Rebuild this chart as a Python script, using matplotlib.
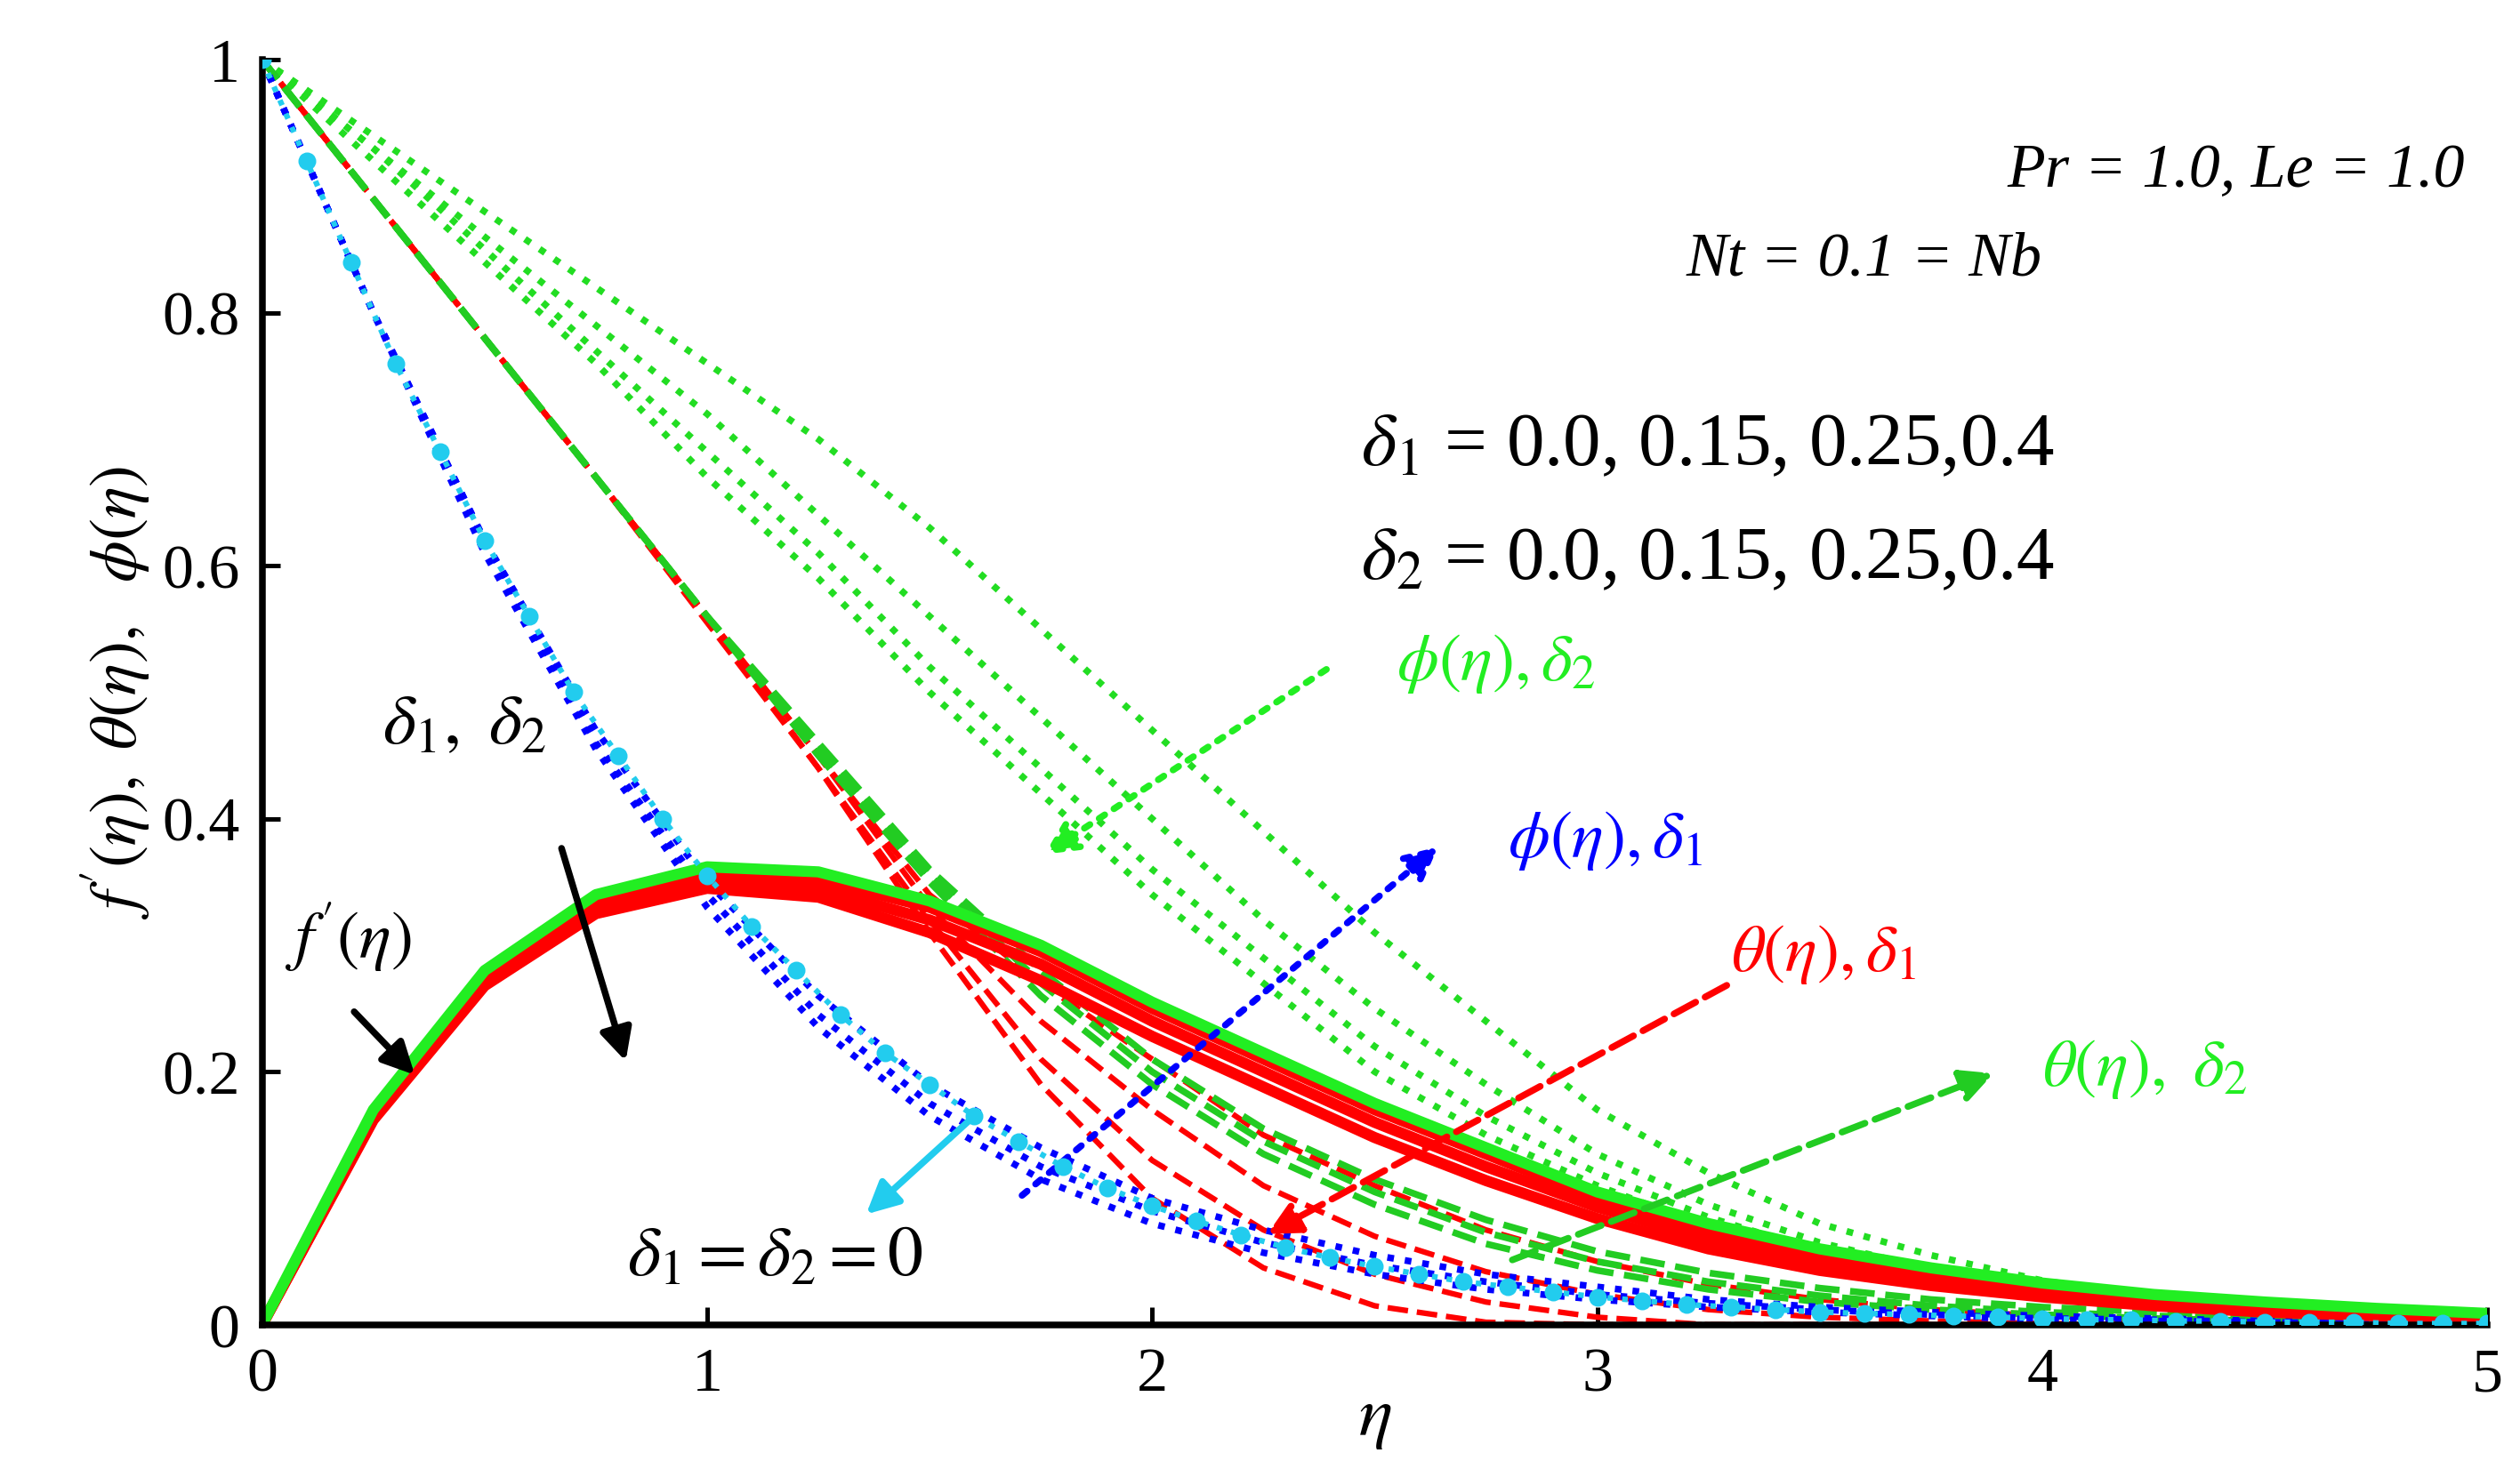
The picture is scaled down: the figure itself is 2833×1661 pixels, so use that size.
import numpy as np
import matplotlib
matplotlib.use("Agg")
import matplotlib.pyplot as plt

eta = [0, 0.25, 0.5, 0.75, 1.0, 1.25, 1.5, 1.75, 2.0, 2.25, 2.5, 2.75, 3.0, 3.25, 3.5, 3.75, 4.0, 4.25, 4.5, 4.75, 5.0]

# f'(eta): green (delta2 family) and red (delta1 family)
fp_green = [0, 0.17, 0.28, 0.34, 0.362, 0.358, 0.335, 0.30, 0.255, 0.215, 0.175, 0.14, 0.105, 0.08, 0.06, 0.045, 0.033, 0.024, 0.018, 0.013, 0.009]
fp_red = [
    [0, 0.165, 0.275, 0.335, 0.355, 0.352, 0.33, 0.295, 0.25, 0.21, 0.17, 0.135, 0.10, 0.075, 0.056, 0.042, 0.03, 0.022, 0.016, 0.011, 0.008],
    [0, 0.163, 0.27, 0.33, 0.35, 0.345, 0.32, 0.285, 0.24, 0.20, 0.16, 0.125, 0.093, 0.068, 0.05, 0.037, 0.026, 0.019, 0.013, 0.009, 0.006],
    [0, 0.162, 0.268, 0.325, 0.345, 0.338, 0.31, 0.272, 0.228, 0.188, 0.148, 0.114, 0.084, 0.06, 0.043, 0.031, 0.022, 0.015, 0.01, 0.007, 0.005],
]

# theta(eta), delta1 family (red dashed)
theta_red = [
    [1, 0.89, 0.78, 0.67, 0.56, 0.45, 0.34, 0.27, 0.21, 0.15, 0.11, 0.075, 0.05, 0.032, 0.02, 0.012, 0.007, 0.004, 0.002, 0.001, 0.0],
    [1, 0.89, 0.78, 0.67, 0.56, 0.45, 0.33, 0.24, 0.17, 0.11, 0.07, 0.042, 0.024, 0.012, 0.006, 0.003, 0.001, 0.0, 0.0, 0.0, 0.0],
    [1, 0.89, 0.78, 0.67, 0.56, 0.44, 0.32, 0.21, 0.13, 0.075, 0.04, 0.018, 0.006, 0.0, 0.0, 0.0, 0.0, 0.0, 0.0, 0.0, 0.0],
    [1, 0.89, 0.78, 0.67, 0.555, 0.44, 0.31, 0.19, 0.10, 0.045, 0.015, 0.002, 0.0, 0.0, 0.0, 0.0, 0.0, 0.0, 0.0, 0.0, 0.0],
]
# theta(eta), delta2 family (green dashed)
theta_green = [
    [1, 0.89, 0.78, 0.67, 0.56, 0.46, 0.36, 0.28, 0.21, 0.155, 0.115, 0.083, 0.058, 0.041, 0.029, 0.02, 0.014, 0.01, 0.007, 0.005, 0.003],
    [1, 0.89, 0.78, 0.67, 0.56, 0.455, 0.355, 0.27, 0.20, 0.145, 0.105, 0.073, 0.05, 0.034, 0.023, 0.015, 0.01, 0.007, 0.005, 0.003, 0.002],
    [1, 0.89, 0.78, 0.67, 0.56, 0.45, 0.35, 0.26, 0.19, 0.135, 0.095, 0.064, 0.043, 0.028, 0.018, 0.012, 0.008, 0.005, 0.003, 0.002, 0.001],
]
# phi(eta), delta2 family (green dotted)
phi_green = [
    [1, 0.94, 0.88, 0.82, 0.76, 0.70, 0.63, 0.55, 0.47, 0.39, 0.31, 0.24, 0.17, 0.12, 0.08, 0.055, 0.035, 0.022, 0.014, 0.009, 0.006],
    [1, 0.93, 0.86, 0.79, 0.72, 0.64, 0.56, 0.48, 0.40, 0.32, 0.25, 0.19, 0.135, 0.095, 0.065, 0.044, 0.029, 0.019, 0.012, 0.008, 0.005],
    [1, 0.93, 0.85, 0.77, 0.69, 0.61, 0.52, 0.44, 0.36, 0.29, 0.22, 0.165, 0.12, 0.085, 0.058, 0.04, 0.026, 0.017, 0.011, 0.007, 0.004],
    [1, 0.92, 0.84, 0.76, 0.67, 0.59, 0.50, 0.42, 0.34, 0.27, 0.20, 0.15, 0.11, 0.077, 0.053, 0.036, 0.024, 0.016, 0.01, 0.006, 0.004],
]
# phi(eta), delta1 family (blue dotted)
phi_blue = [
    [1, 0.80, 0.62, 0.47, 0.35, 0.26, 0.19, 0.14, 0.10, 0.075, 0.055, 0.04, 0.03, 0.02, 0.014, 0.01, 0.007, 0.005, 0.003, 0.002, 0.001],
    [1, 0.80, 0.62, 0.46, 0.34, 0.245, 0.175, 0.125, 0.09, 0.065, 0.047, 0.034, 0.024, 0.017, 0.012, 0.008, 0.005, 0.004, 0.002, 0.001, 0.001],
    [1, 0.80, 0.61, 0.455, 0.33, 0.235, 0.165, 0.115, 0.08, 0.057, 0.04, 0.028, 0.02, 0.014, 0.01, 0.007, 0.004, 0.003, 0.002, 0.001, 0.0],
]
# base case delta1 = delta2 = 0 (cyan dots)
eta_c = [0, 0.1, 0.2, 0.3, 0.4, 0.5, 0.6, 0.7, 0.8, 0.9, 1.0, 1.1, 1.2, 1.3, 1.4, 1.5, 1.6, 1.7, 1.8, 1.9, 2.0, 2.1, 2.2, 2.3, 2.4, 2.5,
         2.6, 2.7, 2.8, 2.9, 3.0, 3.1, 3.2, 3.3, 3.4, 3.5, 3.6, 3.7, 3.8, 3.9, 4.0, 4.1, 4.2, 4.3, 4.4, 4.5, 4.6, 4.7, 4.8, 4.9, 5.0]
phi_cyan = [1, 0.92, 0.84, 0.76, 0.69, 0.62, 0.56, 0.50, 0.45, 0.40, 0.355, 0.315, 0.28, 0.245, 0.215, 0.19, 0.165, 0.145, 0.125, 0.108,
            0.094, 0.082, 0.071, 0.061, 0.053, 0.046, 0.04, 0.034, 0.03, 0.026, 0.022, 0.019, 0.016, 0.014, 0.012, 0.01, 0.009, 0.008,
            0.007, 0.006, 0.005, 0.004, 0.004, 0.003, 0.003, 0.002, 0.002, 0.002, 0.001, 0.001, 0.001]

plt.rcParams['font.family'] = ['Liberation Serif', 'DejaVu Serif']
plt.rcParams['mathtext.fontset'] = 'stix'

fig = plt.figure(figsize=(2833 / 180, 1662 / 180), dpi=180)
ax = fig.add_axes([0.104, 0.103, 0.883, 0.856])

for y in phi_green:
    ax.plot(eta, y, color='#22dd22', ls=':', lw=3)
for y in theta_red:
    ax.plot(eta, y, color='red', ls='--', lw=2.5)
for y in theta_green:
    ax.plot(eta, y, color='#22cc22', ls='--', lw=3)
for y in phi_blue:
    ax.plot(eta, y, color='blue', ls=':', lw=3)
for y in fp_red:
    ax.plot(eta, y, color='red', lw=5)
ax.plot(eta, fp_green, color='#22ee22', lw=5)
ax.plot(eta_c, phi_cyan, color='#22ccee', ls=':', lw=2.5, marker='o', ms=7, zorder=5)

ax.set_xlim(0, 5)
ax.set_ylim(0, 1)
ax.set_xticks([0, 1, 2, 3, 4, 5])
ax.set_yticks([0, 0.2, 0.4, 0.6, 0.8, 1])
ax.set_yticklabels(['0', '0.2', '0.4', '0.6', '0.8', '1'])
ax.tick_params(labelsize=28, direction='in', length=8, width=2, pad=10)
for s in ['top', 'right']:
    ax.spines[s].set_visible(False)
for s in ['left', 'bottom']:
    ax.spines[s].set_linewidth(3)
ax.set_xlabel(r'$\eta$', fontsize=32, labelpad=-8)
ax.set_ylabel(r"$f'(\eta),\ \theta(\eta),\ \ \phi(\eta)$", fontsize=30, labelpad=4)

it = dict(style='italic', fontsize=28)
ax.text(4.95, 0.90, 'Pr = 1.0, Le = 1.0', ha='right', **it)
ax.text(3.2, 0.83, 'Nt = 0.1 = Nb', ha='left', **it)
ax.text(2.47, 0.68, r'$\delta_1$ = 0.0, 0.15, 0.25,0.4', fontsize=34)
ax.text(2.47, 0.59, r'$\delta_2$ = 0.0, 0.15, 0.25,0.4', fontsize=34)
ax.text(2.55, 0.51, r'$\phi(\eta),\delta_2$', color='#22ee22', fontsize=30)
ax.text(2.8, 0.37, r'$\phi(\eta),\delta_1$', color='blue', fontsize=30)
ax.text(3.3, 0.28, r'$\theta(\eta),\delta_1$', color='red', fontsize=30)
ax.text(4.0, 0.19, r'$\theta(\eta),\ \delta_2$', color='#22ee22', fontsize=30)
ax.text(0.27, 0.46, r"$\delta_{1},\ \delta_2$", fontsize=32)
ax.text(0.05, 0.29, r"$f'(\eta)$", fontsize=30)
ax.text(0.82, 0.04, r'$\delta_1 = \delta_2 = 0$', fontsize=32)

arr = lambda c, ls='-': dict(arrowstyle='-|>', color=c, lw=3, ls=ls, mutation_scale=30)
ax.annotate('', xy=(0.35, 0.195), xytext=(0.2, 0.25), arrowprops=arr('black'))
ax.annotate('', xy=(0.82, 0.205), xytext=(0.67, 0.38), arrowprops=arr('black'))
ax.annotate('', xy=(1.75, 0.37), xytext=(2.4, 0.52), arrowprops=arr('#22ee22', ':'))
ax.annotate('', xy=(2.65, 0.38), xytext=(1.7, 0.1), arrowprops=arr('blue', ':'))
ax.annotate('', xy=(2.25, 0.07), xytext=(3.3, 0.27), arrowprops=arr('red', '--'))
ax.annotate('', xy=(3.9, 0.2), xytext=(2.8, 0.05), arrowprops=arr('#22cc22', '--'))
ax.annotate('', xy=(1.35, 0.085), xytext=(1.6, 0.165), arrowprops=arr('#22ccee'))

fig.savefig('out.png', dpi=180)
